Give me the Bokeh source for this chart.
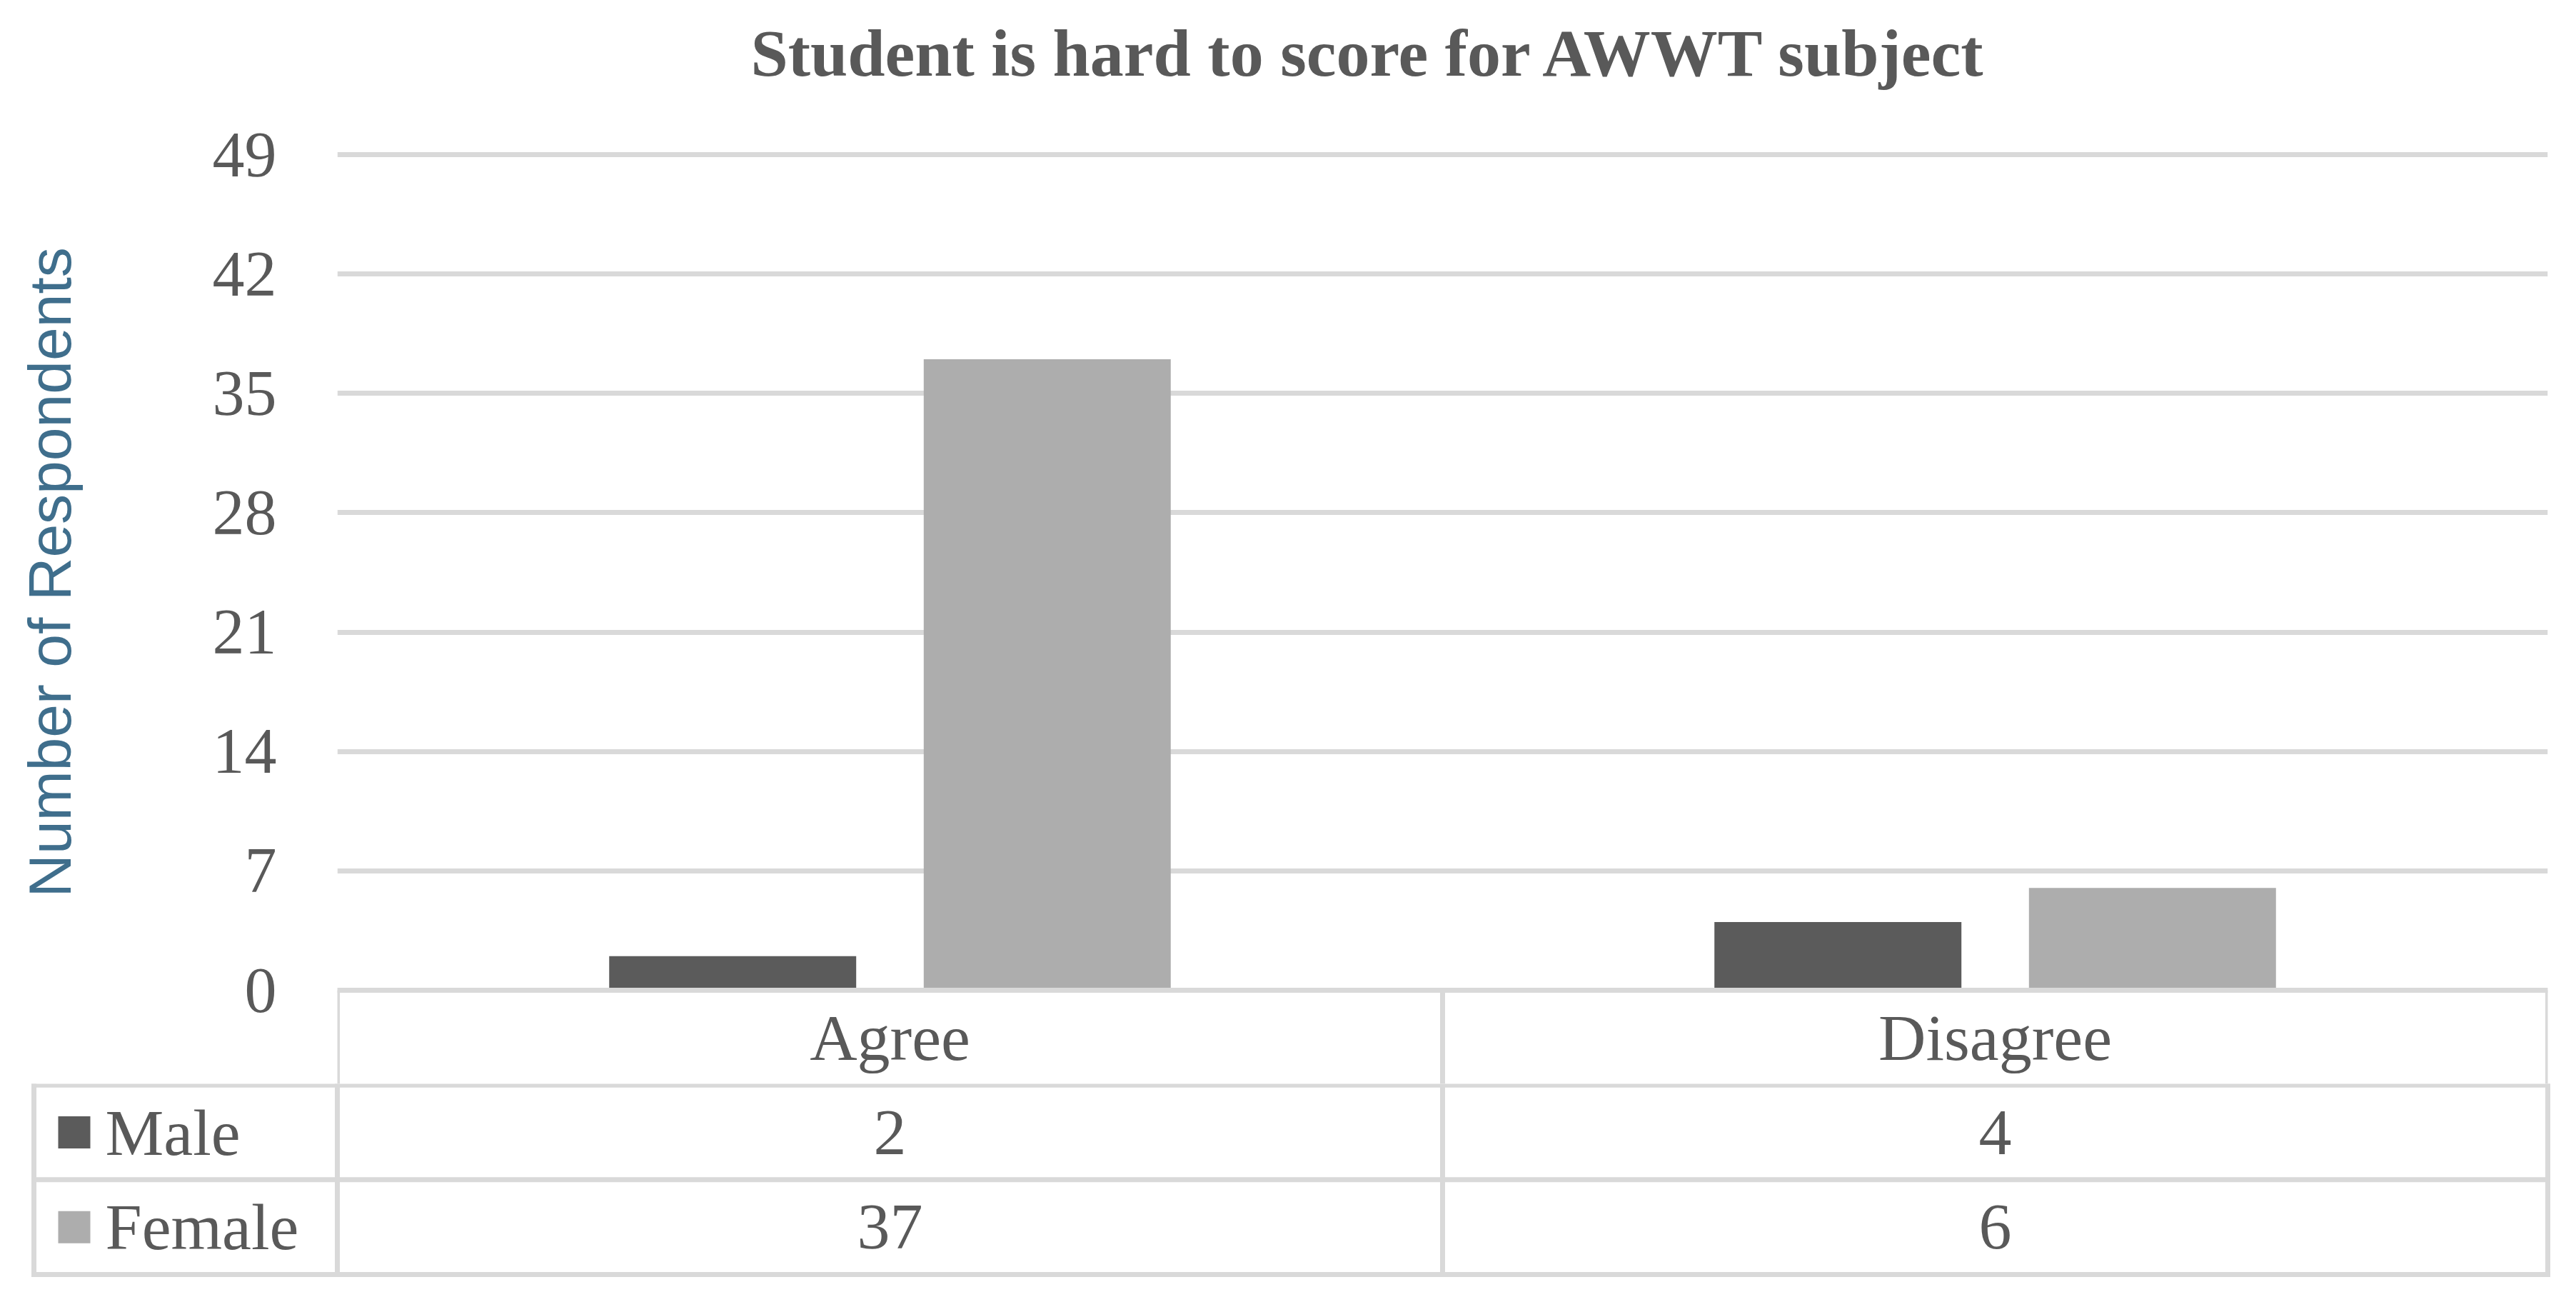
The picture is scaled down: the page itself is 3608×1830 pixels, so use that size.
import math
from bokeh.plotting import figure
from bokeh.models import FactorRange, Range1d, FixedTicker, Span, ColumnDataSource
from bokeh.transform import dodge
from bokeh.layouts import column, row
from bokeh.embed import file_html
from bokeh.resources import INLINE
from bokeh.core.properties import value

# ---------------- data ----------------
title_text = "Student is hard to score for AWWT  subject"
categories = ["Agree", "Disagree"]
series_names = ["Male", "Female"]
male = [2, 4]
female = [37, 6]
y_ticks = [0, 7, 14, 21, 28, 35, 42, 49]
y_label = "Number of Respondents"

# ---------------- style ----------------
MALE_C = "#5B5B5B"
FEMALE_C = "#ADADAD"
GRID_C = "#D9D9D9"
TEXT_C = "#595959"
YLAB_C = "#3F6E8C"
SERIF = "Liberation Serif"
SANS = "Liberation Sans"
FS = 92  # table font size in px
LW = 7

# ---------------- layout (page pixels) ----------------
W = 3600
PLOT_L, PLOT_R = 472, 3568          # plot area
Y0_PX, YTOP_PX = 1386, 216          # pixel rows of 0 and top tick
TABLE_BOTTOM_PX = 1784
n = len(categories)
n_rows = 1 + len(series_names)
ROW_PX = (TABLE_BOTTOM_PX - Y0_PX) / n_rows
CAT_PX = (PLOT_R - PLOT_L) / n
PX_PER_UNIT = (Y0_PX - YTOP_PX) / y_ticks[-1]

H0 = 150                 # title strip
LW_STRIP = 200           # y-label strip width
FRAME_T = 208
FRAME_B = 1517
H1 = FRAME_B - H0
H2 = 293


def base_fig(**kw):
    f = figure(output_backend="svg", toolbar_location=None, title=None,
               x_axis_location=None, **kw)
    if "frame_align" in f.properties():
        f.frame_align = False
    f.outline_line_color = None
    f.background_fill_color = "white"
    f.border_fill_color = "white"
    return f

# ---------------- title strip ----------------
p0 = base_fig(width=W, height=H0, x_range=Range1d(0, W), y_range=Range1d(H0, 0),
              y_axis_location=None, min_border_left=0, min_border_right=0,
              min_border_top=0, min_border_bottom=0)
p0.grid.visible = False
p0.text(x=[1930], y=[73], text=[title_text], text_align="center", text_baseline="middle",
        text_font=value(SERIF), text_font_style="bold", text_font_size=value("94px"),
        text_color=TEXT_C)

# ---------------- y-label strip ----------------
pL = base_fig(width=LW_STRIP, height=H1, x_range=Range1d(0, LW_STRIP), y_range=Range1d(H1, 0),
              y_axis_location=None, min_border_left=0, min_border_right=0,
              min_border_top=0, min_border_bottom=0)
pL.grid.visible = False
pL.text(x=[69], y=[(YTOP_PX + Y0_PX) / 2 - H0], text=[y_label], angle=math.pi / 2,
        text_align="center", text_baseline="middle",
        text_font=value(SANS), text_font_size=value("84px"), text_color=YLAB_C)

# ---------------- chart ----------------
y_start = -(FRAME_B - Y0_PX) / PX_PER_UNIT
y_end = y_ticks[-1] + (YTOP_PX - FRAME_T) / PX_PER_UNIT
p1 = base_fig(width=W - LW_STRIP, height=H1,
              x_range=FactorRange(factors=categories),
              y_range=Range1d(y_start, y_end),
              min_border_left=PLOT_L - LW_STRIP, min_border_right=W - PLOT_R,
              min_border_top=FRAME_T - H0, min_border_bottom=0)
p1.xgrid.visible = False

ax = p1.yaxis[0]
ax.ticker = FixedTicker(ticks=y_ticks)
ax.axis_line_color = None
ax.major_tick_line_color = None
ax.minor_tick_line_color = None
ax.major_tick_out = 0
ax.major_tick_in = 0
ax.major_label_text_font = SERIF
ax.major_label_text_font_size = "90px"
ax.major_label_text_color = TEXT_C
ax.major_label_standoff = 85

p1.ygrid.grid_line_color = GRID_C
p1.ygrid.grid_line_width = LW

src = ColumnDataSource(dict(cat=categories, male=male, female=female))
BAR_W = 0.2235
OFF = 0.1423
p1.vbar(x=dodge("cat", -OFF, range=p1.x_range), top="male", width=BAR_W, source=src,
        fill_color=MALE_C, line_color=None)
p1.vbar(x=dodge("cat", OFF, range=p1.x_range), top="female", width=BAR_W, source=src,
        fill_color=FEMALE_C, line_color=None)

# table header row (categories) lives in the chart's frame, just under the zero line
vx = list(range(n + 1))
p1.segment(x0=vx, y0=[0] * len(vx), x1=vx, y1=[y_start] * len(vx),
           line_color=GRID_C, line_width=LW)
p1.add_layout(Span(location=0, dimension="width", line_color=GRID_C, line_width=LW, level="overlay"))
p1.text(x=categories, y=[-(ROW_PX / 2) / PX_PER_UNIT] * n, text=categories,
        text_align="center", text_baseline="middle",
        text_font=value(SERIF), text_font_size=value(f"{FS}px"), text_color=TEXT_C)

# ---------------- data table rows ----------------
top2 = FRAME_B
p2 = base_fig(width=W, height=H2,
              x_range=Range1d(-PLOT_L / CAT_PX, (W - PLOT_L) / CAT_PX),
              y_range=Range1d(-(top2 + H2 - Y0_PX) / ROW_PX, -(top2 - Y0_PX) / ROW_PX),
              y_axis_location=None,
              min_border_left=0, min_border_right=0, min_border_top=0, min_border_bottom=0)
p2.grid.visible = False

TABLE_LEFT = (47 - PLOT_L) / CAT_PX
hy = [-(k + 1) for k in range(n_rows)]
p2.segment(x0=[TABLE_LEFT] * n_rows, y0=hy, x1=[n] * n_rows, y1=hy,
           line_color=GRID_C, line_width=LW, line_cap="square")
p2.segment(x0=vx, y0=[0] * len(vx), x1=vx, y1=[-n_rows] * len(vx),
           line_color=GRID_C, line_width=LW, line_cap="square")
p2.segment(x0=[TABLE_LEFT], y0=[-1], x1=[TABLE_LEFT], y1=[-n_rows],
           line_color=GRID_C, line_width=LW, line_cap="square")

series_vals = [male, female]
series_cols = [MALE_C, FEMALE_C]
LEG_X = (103.5 - PLOT_L) / CAT_PX
NAME_X = (147 - PLOT_L) / CAT_PX
for r, (name, vals, col) in enumerate(zip(series_names, series_vals, series_cols)):
    yc = -(r + 1.5)
    p2.rect(x=[LEG_X], y=[yc], width=45, height=45, width_units="screen", height_units="screen",
            fill_color=col, line_color=None)
    p2.text(x=[NAME_X], y=[yc], text=[name], text_align="left", text_baseline="middle",
            text_font=value(SERIF), text_font_size=value(f"{FS}px"), text_color=TEXT_C)
    p2.text(x=[i + 0.5 for i in range(n)], y=[yc] * n, text=[str(v) for v in vals],
            text_align="center", text_baseline="middle",
            text_font=value(SERIF), text_font_size=value(f"{FS}px"), text_color=TEXT_C)

layout = column(p0, row(pL, p1, spacing=0), p2, spacing=0)
open("out.html", "w").write(file_html(layout, INLINE))
